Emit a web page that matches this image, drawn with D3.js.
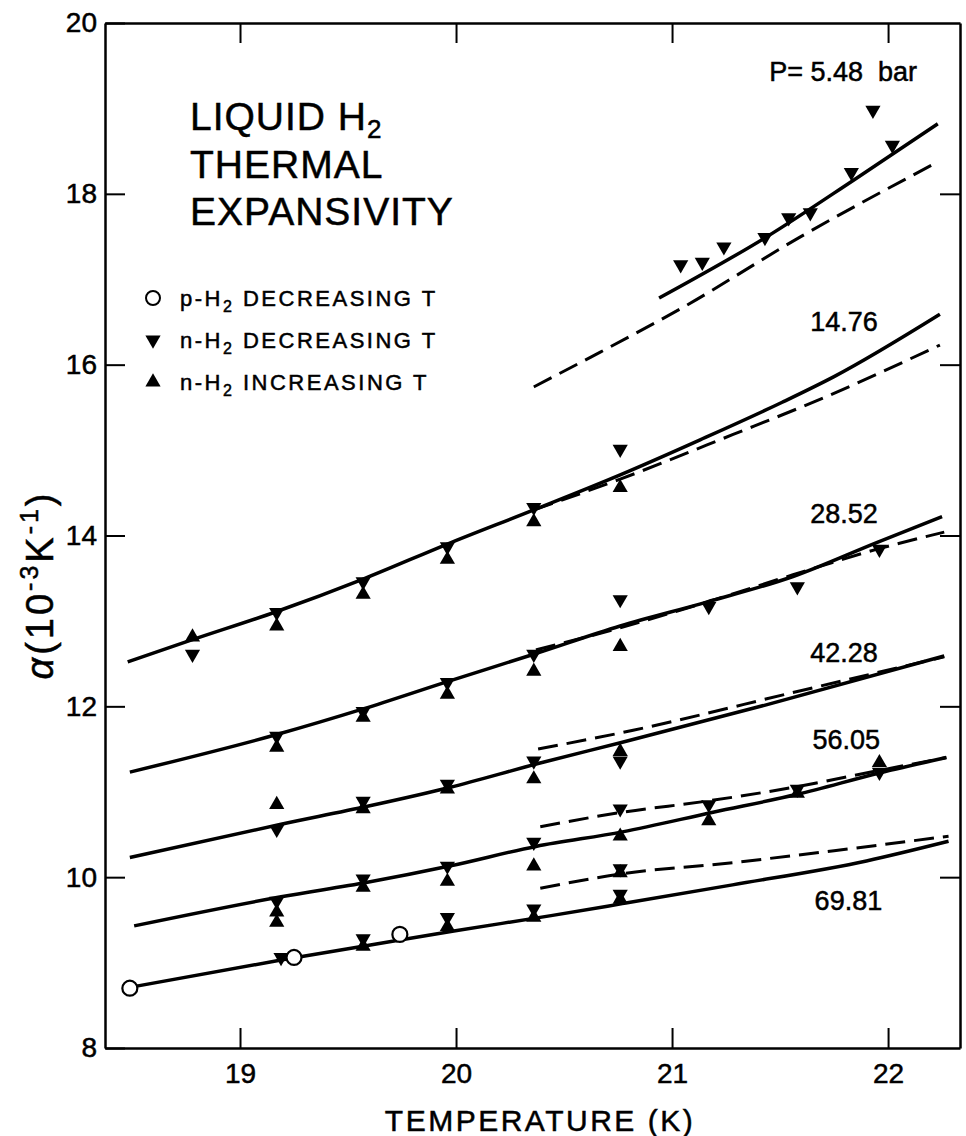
<!DOCTYPE html>
<html>
<head>
<meta charset="utf-8">
<script src="https://cdn.jsdelivr.net/npm/d3@7"></script>
<style>
body { margin: 0; background: #fff; }
svg text { font-family: "Liberation Sans", Arial, sans-serif; fill: #000; white-space: pre; stroke: #000; stroke-width: 0.5; }
</style>
</head>
<body>
<script>
// alpha (10^-3 K^-1) against temperature (K)

const pressures = ['P= 5.48  bar', '14.76', '28.52', '42.28', '56.05', '69.81']

// solid = fitted curves, dash = second set of curves
const fit548   = [[20.94,16.78],[21.44,17.50],[21.84,18.16],[22.23,18.82]]
const dash548  = [[20.36,15.74],[20.67,16.15],[21.05,16.67],[21.59,17.49],[22.22,18.36]]
const fit1476  = [[18.48,12.52],[18.78,12.78],[19.17,13.11],[19.57,13.49],[19.96,13.90],[20.36,14.30],[20.76,14.71],[21.13,15.12],[21.51,15.56],[21.75,15.86],[22.24,16.59]]
const dash1476 = [[20.36,14.30],[20.76,14.66],[21.28,15.18],[21.69,15.60],[22.24,16.23]]
const fit2852  = [[18.49,11.23],[19.17,11.67],[19.57,11.97],[19.96,12.29],[20.36,12.61],[20.76,12.94],[21.16,13.22],[21.56,13.52],[21.95,13.92],[22.25,14.22]]
const dash2852 = [[20.37,12.66],[20.76,12.92],[21.16,13.22],[21.56,13.54],[21.95,13.84],[22.26,14.04]]
const fit4228  = [[18.49,10.23],[19.19,10.62],[19.59,10.83],[19.97,11.05],[20.38,11.33],[20.77,11.58],[21.44,12.02],[22.26,12.59]]
const dash4228 = [[20.38,11.50],[20.82,11.72],[21.59,12.18],[22.26,12.58]]
const fit5605  = [[18.51,9.43],[19.19,9.77],[19.59,9.94],[19.97,10.13],[20.37,10.36],[20.77,10.53],[21.19,10.76],[21.58,10.97],[21.96,11.22],[22.27,11.40]]
const dash5605 = [[20.39,10.59],[20.77,10.76],[21.16,10.89],[21.58,11.06],[21.96,11.25],[22.27,11.40]]
const fit6981  = [[18.49,8.71],[19.19,9.03],[19.59,9.20],[19.99,9.37],[20.44,9.55],[20.77,9.69],[21.28,9.91],[21.90,10.19],[22.28,10.42]]
const dash6981 = [[20.39,9.87],[20.77,10.04],[21.28,10.17],[21.75,10.31],[22.28,10.48]]

// measured points
const pH2Dec = [[18.49,8.70],[19.25,9.06],[19.74,9.33]]
const nH2Dec = [[18.78,12.61],
  [19.17,13.10],[19.17,11.65],[19.17,10.56],[19.17,9.72],[19.19,9.06],
  [19.57,13.46],[19.57,11.94],[19.57,10.89],[19.57,9.98],[19.57,9.28],
  [19.96,13.87],[19.96,12.28],[19.96,11.09],[19.96,10.13],[19.96,9.53],
  [20.36,14.33],[20.36,12.61],[20.36,11.36],[20.36,10.41],[20.36,9.63],
  [20.76,15.01],[20.76,13.25],[20.76,11.36],[20.76,10.80],[20.76,10.10],[20.76,9.80],
  [21.17,13.17],[21.17,10.85],[21.58,13.40],[21.58,11.03],[21.96,13.84],[21.96,11.23],
  [21.04,17.17],[21.14,17.20],[21.24,17.38],[21.43,17.49],[21.54,17.72],[21.64,17.78],[21.83,18.25],[21.93,18.98],[22.02,18.57]]
const nH2Inc = [[18.78,12.81],
  [19.17,12.94],[19.17,11.52],[19.17,10.85],[19.17,9.59],[19.17,9.47],
  [19.57,13.31],[19.57,11.87],[19.57,10.80],[19.57,9.88],[19.57,9.19],
  [19.96,13.72],[19.96,12.14],[19.96,11.03],[19.96,9.95],[19.96,9.42],
  [20.36,14.16],[20.36,12.41],[20.36,11.15],[20.36,10.13],[20.36,9.53],
  [20.76,14.56],[20.76,12.70],[20.76,11.47],[20.76,10.48],[20.76,10.05],[20.76,9.74],
  [21.17,10.66],[21.58,10.98],[21.96,11.34]]

const xTicks = [19, 20, 21, 22]
const yTicks = [8, 10, 12, 14, 16, 18, 20]
const titleLines = ['LIQUID H', 'THERMAL', 'EXPANSIVITY']
const legendNames = [['p-H', ' DECREASING T'], ['n-H', ' DECREASING T'], ['n-H', ' INCREASING T']]

function main(){

let width = 966
let height = 1136

let svg = d3.select('body')
    .append('svg')
    .attr('width', width)
    .attr('height', height)

let x = d3.scaleLinear().domain([18.375, 22.333]).range([105, 960])
let y = d3.scaleLinear().domain([8, 20]).range([1048, 23])

// frame, ticks pointing inward
let left = svg.append('g').attr('transform', 'translate(105,0)')
    .call(d3.axisLeft(y).tickValues(yTicks).tickSizeInner(-20).tickSizeOuter(0).tickPadding(8).tickFormat(d3.format('d')))
let bottom = svg.append('g').attr('transform', 'translate(0,1048)')
    .call(d3.axisBottom(x).tickValues(xTicks).tickSizeInner(-20).tickSizeOuter(0).tickPadding(15).tickFormat(d3.format('d')))
svg.append('g').attr('transform', 'translate(0,23)')
    .call(d3.axisTop(x).tickValues(xTicks).tickSizeInner(-20).tickSizeOuter(0).tickFormat(''))
svg.append('g').attr('transform', 'translate(960,0)')
    .call(d3.axisRight(y).tickValues([10, 12, 14, 16, 18]).tickSizeInner(-20).tickSizeOuter(0).tickFormat(''))

svg.selectAll('.domain').attr('stroke', '#000').attr('stroke-width', 2.5)
svg.selectAll('.tick line').attr('stroke', '#000').attr('stroke-width', 2)
left.attr('font-size', 28).attr('font-family', null)
bottom.attr('font-size', 28).attr('font-family', null)

// curves
let line = d3.line().x(d => x(d[0])).y(d => y(d[1])).curve(d3.curveMonotoneX)
let fits = [fit548, fit1476, fit2852, fit4228, fit5605, fit6981]
let dashes = [dash548, dash1476, dash2852, dash4228, dash5605, dash6981]

svg.append('g').selectAll('path')
    .data(dashes)
    .enter().append('path')
    .attr('d', line)
    .attr('fill', 'none')
    .attr('stroke', '#000')
    .attr('stroke-width', 3)
    .attr('stroke-dasharray', '20,9')

svg.append('g').selectAll('path')
    .data(fits)
    .enter().append('path')
    .attr('d', line)
    .attr('fill', 'none')
    .attr('stroke', '#000')
    .attr('stroke-width', 3.5)

// markers
let tri = d3.symbol().type(d3.symbolTriangle).size(100)

svg.append('g').selectAll('path')
    .data(nH2Inc)
    .enter().append('path')
    .attr('d', tri)
    .attr('transform', d => 'translate(' + x(d[0]) + ',' + y(d[1]) + ')')

svg.append('g').selectAll('path')
    .data(nH2Dec)
    .enter().append('path')
    .attr('d', tri)
    .attr('transform', d => 'translate(' + x(d[0]) + ',' + y(d[1]) + ') rotate(180)')

svg.append('g').selectAll('circle')
    .data(pH2Dec)
    .enter().append('circle')
    .attr('cx', d => x(d[0]))
    .attr('cy', d => y(d[1]))
    .attr('r', 7.5)
    .attr('fill', '#fff')
    .attr('stroke', '#000')
    .attr('stroke-width', 2.2)

// pressure labels (anchor in data units)
let labelT = [21.45, 21.64, 21.64, 21.64, 21.65, 21.66]
let labelA = [19.43, 16.50, 14.26, 12.63, 11.61, 9.73]
svg.append('g').selectAll('text')
    .data(pressures)
    .enter().append('text')
    .attr('x', (d, i) => x(labelT[i]))
    .attr('y', (d, i) => y(labelA[i]))
    .attr('dy', '0.35em')
    .attr('font-size', 27)
    .text(d => d)

// title
let title = svg.append('g')
title.selectAll('text')
    .data(titleLines)
    .enter().append('text')
    .attr('x', 190)
    .attr('y', (d, i) => 130 + i * 47.5)
    .attr('font-size', 39)
    .attr('letter-spacing', 1)
    .text(d => d)
title.select('text').append('tspan').attr('dy', 8).attr('font-size', 26).text('2')

// legend
let legendY = [298, 340, 382]
let leg = svg.append('g')
leg.append('circle').attr('cx', 153).attr('cy', legendY[0]).attr('r', 7)
    .attr('fill', '#fff').attr('stroke', '#000').attr('stroke-width', 2)
leg.append('path').attr('d', tri).attr('transform', 'translate(153,' + legendY[1] + ') rotate(180)')
leg.append('path').attr('d', tri).attr('transform', 'translate(153,' + legendY[2] + ')')
legendNames.forEach(function(n, i){
    let t = leg.append('text').attr('x', 180).attr('y', legendY[i] + 8)
        .attr('font-size', 22).attr('letter-spacing', 2.5)
    t.append('tspan').text(n[0])
    t.append('tspan').attr('dy', 6).attr('font-size', 16).text('2')
    t.append('tspan').attr('dy', -6).text(n[1])
})

// axis titles
svg.append('text')
    .attr('x', 540).attr('y', 1131)
    .attr('text-anchor', 'middle')
    .attr('font-size', 30)
    .attr('letter-spacing', 2.5)
    .text('TEMPERATURE (K)')

let yl = svg.append('text')
    .attr('transform', 'translate(53,585) rotate(-90)')
    .attr('text-anchor', 'middle')
    .attr('font-size', 38)
    .attr('letter-spacing', 3)
yl.append('tspan').attr('font-style', 'italic').text('α')
yl.append('tspan').text('(10')
yl.append('tspan').attr('dy', -15).attr('font-size', 25).text('-3')
yl.append('tspan').attr('dy', 15).text('K')
yl.append('tspan').attr('dy', -15).attr('font-size', 25).text('-1')
yl.append('tspan').attr('dy', 15).text(')')
}

main()
</script>
</body>
</html>
